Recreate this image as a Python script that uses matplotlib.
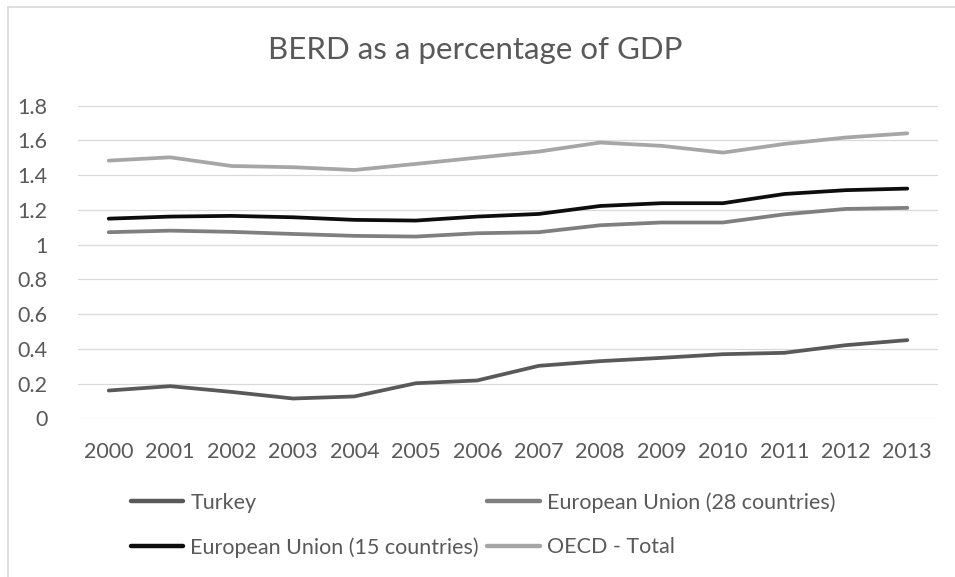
import matplotlib.pyplot as plt
from matplotlib.lines import Line2D
from matplotlib.ticker import FuncFormatter

plt.rcParams["font.family"] = ["Lato", "DejaVu Sans"]

years = [str(y) for y in range(2000, 2014)]

turkey = [0.161, 0.186, 0.153, 0.115, 0.127, 0.203, 0.219,
          0.303, 0.330, 0.349, 0.370, 0.378, 0.422, 0.451]
eu28 = [1.072, 1.081, 1.074, 1.062, 1.051, 1.047, 1.066,
        1.072, 1.112, 1.128, 1.128, 1.175, 1.206, 1.212]
eu15 = [1.150, 1.162, 1.166, 1.158, 1.143, 1.139, 1.162,
        1.177, 1.223, 1.239, 1.239, 1.292, 1.314, 1.323]
oecd = [1.484, 1.503, 1.453, 1.446, 1.430, 1.465, 1.501,
        1.536, 1.588, 1.569, 1.530, 1.580, 1.617, 1.641]

series = [
    ("Turkey", turkey, "#595959"),
    ("European Union (28 countries)", eu28, "#7f7f7f"),
    ("European Union (15 countries)", eu15, "#0d0d0d"),
    ("OECD - Total", oecd, "#a6a6a6"),
]

TEXT = "#595959"
FS = 15.5

W, H = 955, 577
fig = plt.figure(figsize=(W / 100, H / 100), dpi=100)
ax = fig.add_axes([78 / W, 1 - 418.5 / H, (938 - 78) / W, (418.5 - 105.7) / H])

x = list(range(len(years)))
lines = {}
for name, vals, col in series:
    (ln,) = ax.plot(x, vals, color=col, lw=2.7, solid_capstyle="round",
                    solid_joinstyle="round", label=name, zorder=3)
    lines[name] = ln

ax.set_xlim(-0.5, len(years) - 0.5)
ax.set_ylim(0, 1.8)
ax.set_yticks([0.2 * i for i in range(10)])
ax.yaxis.set_major_formatter(FuncFormatter(lambda v, p: f"{round(v, 1):g}"))
ax.set_xticks(x)
ax.set_xticklabels(years)

ax.grid(True, axis="y", color="#d9d9d9", lw=0.9, zorder=0)
for s in ax.spines.values():
    s.set_visible(False)
ax.tick_params(axis="both", length=0, labelsize=FS, colors=TEXT)
ax.tick_params(axis="y", pad=22)
ax.tick_params(axis="x", pad=17)

fig.text(475 / W, 1 - 50 / H, "BERD as a percentage of GDP", ha="center",
         va="center", fontsize=22.5, color=TEXT)

order = ["Turkey", "European Union (15 countries)",
         "European Union (28 countries)", "OECD - Total"]
handles = [Line2D([], [], color=lines[n].get_color(), lw=3.2, solid_capstyle="round")
           for n in order]
fig.legend(handles, order, loc="upper left", bbox_to_anchor=(131 / W, 1 - 492 / H),
           ncol=2, frameon=False, fontsize=FS, labelcolor=TEXT, borderpad=0,
           borderaxespad=0, handlelength=2.42, handletextpad=0.33,
           columnspacing=0.4, labelspacing=1.15)

# chart area border (top and left only visible)
fig.add_artist(Line2D([8 / W, 1], [1 - 7 / H, 1 - 7 / H], color="#d9d9d9", lw=1.2))
fig.add_artist(Line2D([8 / W, 8 / W], [0, 1 - 7 / H], color="#d9d9d9", lw=1.2))

fig.savefig("out.png", dpi=100, facecolor="white")
